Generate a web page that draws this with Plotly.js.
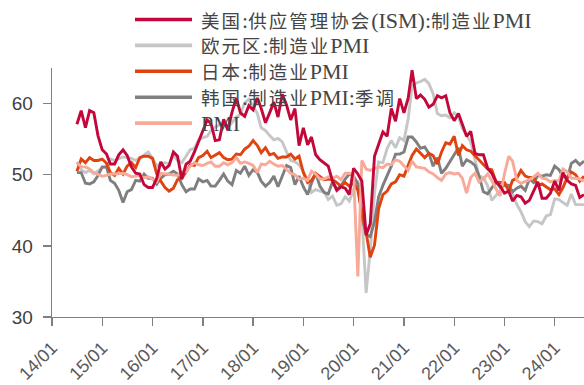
<!DOCTYPE html>
<html>
<head>
<meta charset="utf-8">
<script src="https://cdn.plot.ly/plotly-3.0.1.min.js"></script>
<style>
  html, body { margin: 0; padding: 0; background: #fff; }
  #chart { width: 584px; height: 385px; }
</style>
</head>
<body>
<div id="chart"></div>
<script>
// Monthly manufacturing PMI readings, 2014-07 through 2024-08
const startMonth = '2014-07';
const seriesNames = [
  '美国:供应管理协会(ISM):制造业PMI',
  '欧元区:制造业PMI',
  '日本:制造业PMI',
  '韩国:制造业PMI:季调',
  'PMI'
];

const usIsm = [
  57.1, 59.0, 56.6, 59.0, 58.7, 55.5,
  53.5, 52.9, 51.5, 51.5, 52.8, 53.5, 52.7, 51.1, 50.2, 50.1, 48.6, 48.2,
  48.2, 49.5, 51.8, 50.8, 51.3, 53.2, 52.6, 49.4, 51.5, 51.9, 53.2, 54.7,
  56.0, 57.7, 57.2, 54.8, 54.9, 57.8, 56.3, 58.8, 60.8, 58.7, 58.2, 59.7,
  59.1, 60.8, 59.3, 57.3, 58.7, 60.2, 58.1, 61.3, 59.8, 57.7, 59.3, 54.1,
  56.6, 54.2, 55.3, 52.8, 52.1, 51.7, 51.2, 49.1, 47.8, 48.3, 48.1, 47.2,
  50.9, 50.1, 49.1, 41.5, 43.1, 52.6, 54.2, 56.0, 55.4, 59.3, 57.5, 60.7,
  58.7, 60.8, 64.7, 60.7, 61.2, 60.6, 59.5, 59.9, 61.1, 60.8, 61.1, 58.7,
  57.6, 58.6, 57.1, 55.4, 56.1, 53.0, 52.8, 52.8, 50.9, 50.2, 49.0, 48.4,
  47.4, 47.7, 46.3, 47.1, 46.9, 46.0, 46.4, 47.6, 49.0, 46.7, 46.7, 47.4,
  49.1, 47.8, 50.3, 49.2, 48.7, 48.5, 46.8, 47.2
];

const euroArea = [
  51.8, 50.7, 50.3, 50.6, 50.1, 50.6,
  51.0, 51.0, 52.2, 52.0, 52.2, 52.5, 52.4, 52.3, 52.0, 52.3, 52.8, 53.2,
  52.3, 51.2, 51.6, 51.7, 51.5, 52.8, 52.0, 51.7, 52.6, 53.5, 53.7, 54.9,
  55.2, 55.4, 56.2, 56.7, 57.0, 57.4, 56.6, 57.4, 58.1, 58.5, 60.1, 60.6,
  59.6, 58.6, 56.6, 56.2, 55.5, 54.9, 55.1, 54.6, 53.2, 52.0, 51.8, 51.4,
  50.5, 49.3, 47.5, 47.9, 47.7, 47.6, 46.5, 47.0, 45.7, 45.9, 46.9, 46.3,
  47.9, 49.2, 44.5, 33.4, 39.4, 47.4, 51.8, 51.7, 53.7, 54.8, 53.8, 55.2,
  54.8, 57.9, 62.5, 62.9, 63.1, 63.4, 62.8, 61.4, 58.6, 58.3, 58.4, 58.0,
  58.7, 58.2, 56.5, 55.5, 54.6, 52.1, 49.8, 49.6, 48.4, 46.4, 47.1, 47.8,
  48.8, 48.5, 47.3, 45.8, 44.8, 43.4, 42.7, 43.5, 43.4, 43.1, 44.2, 44.4,
  46.6, 46.5, 46.1, 45.7, 47.3, 45.8, 45.8, 45.8
];

const japan = [
  50.5, 52.2, 51.7, 52.4, 52.0, 52.0,
  52.2, 51.6, 50.3, 49.9, 50.9, 50.1, 51.2, 51.7, 51.0, 52.4, 52.6, 52.6,
  52.3, 50.1, 49.1, 48.2, 47.7, 48.1, 49.3, 49.5, 50.4, 51.4, 51.3, 52.4,
  52.7, 53.3, 52.4, 52.7, 53.1, 52.4, 52.1, 52.2, 52.9, 52.8, 53.6, 54.0,
  54.8, 54.1, 53.1, 53.8, 52.8, 53.0, 52.3, 52.5, 52.5, 52.9, 52.2, 52.6,
  50.3, 48.9, 49.2, 50.2, 49.8, 49.3, 49.4, 49.3, 48.9, 48.4, 48.9, 48.4,
  48.8, 47.8, 44.8, 41.9, 38.4, 40.1, 45.2, 47.2, 47.7, 48.7, 49.0, 50.0,
  49.8, 51.4, 52.7, 53.6, 53.0, 52.4, 53.0, 52.7, 51.5, 53.2, 54.5, 54.3,
  55.4, 52.7, 54.1, 53.5, 53.3, 52.7, 52.1, 51.5, 50.8, 50.7, 49.0, 48.9,
  48.9, 47.7, 49.2, 49.5, 50.6, 49.8, 49.6, 49.6, 48.5, 48.7, 48.3, 47.9,
  48.0, 47.2, 48.2, 49.6, 50.4, 50.0, 49.1, 49.8
];

const korea = [
  50.3, 50.3, 48.8, 48.7, 49.0, 49.9,
  51.1, 51.1, 49.2, 48.8, 47.8, 46.1, 47.6, 47.9, 49.2, 49.1, 50.1, 49.5,
  49.5, 48.7, 49.5, 50.0, 50.1, 50.5, 50.1, 48.6, 47.6, 48.0, 48.0, 49.4,
  49.0, 49.2, 48.4, 48.4, 49.2, 50.1, 49.1, 48.6, 50.6, 50.2, 51.2, 49.9,
  50.7, 50.3, 49.1, 48.4, 48.9, 49.8, 48.3, 49.9, 51.3, 51.0, 48.6, 49.8,
  48.3, 47.2, 48.8, 50.2, 48.4, 47.5, 47.3, 49.0, 48.0, 48.4, 49.4, 50.1,
  49.8, 48.7, 44.2, 41.6, 41.3, 43.4, 46.9, 48.5, 49.8, 51.2, 52.9, 52.9,
  53.2, 55.3, 55.3, 54.6, 53.7, 53.9, 53.0, 51.2, 52.4, 50.2, 50.9, 51.9,
  52.8, 53.8, 51.2, 52.1, 51.8, 51.3, 49.8, 47.6, 47.3, 48.2, 49.0, 48.2,
  48.5, 48.5, 47.6, 48.1, 48.4, 47.8, 49.4, 48.9, 49.9, 49.8, 50.0, 49.9,
  51.2, 50.7, 49.8, 49.4, 51.6, 52.0, 51.4, 51.9
];

const chinaPmi = [
  51.7, 51.1, 51.1, 50.8, 50.3, 50.1,
  49.8, 49.9, 50.1, 50.1, 50.2, 50.2, 50.0, 49.7, 49.8, 49.8, 49.6, 49.7,
  49.4, 49.0, 50.2, 50.1, 50.1, 50.0, 49.9, 50.4, 50.4, 51.2, 51.7, 51.4,
  51.3, 51.6, 51.8, 51.2, 51.2, 51.7, 51.4, 51.7, 52.4, 51.6, 51.8, 51.6,
  51.3, 50.3, 51.5, 51.4, 51.9, 51.5, 51.2, 51.3, 50.8, 50.2, 50.0, 49.4,
  49.5, 49.2, 50.5, 50.1, 49.4, 49.4, 49.7, 49.5, 49.8, 49.3, 50.2, 50.2,
  50.0, 35.7, 52.0, 50.8, 50.6, 50.9, 51.1, 51.0, 51.5, 51.4, 52.1, 51.9,
  51.3, 50.6, 51.9, 51.1, 51.0, 50.9, 50.4, 50.1, 49.6, 49.2, 50.1, 50.3,
  50.1, 50.2, 49.5, 47.4, 49.6, 50.2, 49.0, 49.4, 50.1, 49.2, 48.0, 47.0,
  50.1, 52.6, 51.9, 49.2, 48.8, 49.0, 49.3, 49.7, 50.2, 49.5, 49.4, 49.0,
  49.2, 49.1, 50.8, 50.4, 49.5, 49.5, 49.4, 49.1
];

// Month stamps for the series, one per value
function monthStamps(start, count) {
  const [y0, m0] = start.split('-').map(Number);
  const out = [];
  for (let i = 0; i < count; i++) {
    const t = (m0 - 1) + i;
    const y = y0 + Math.floor(t / 12);
    const m = (t % 12) + 1;
    out.push(y + '-' + String(m).padStart(2, '0') + '-01');
  }
  return out;
}
const months = monthStamps(startMonth, usIsm.length);

const seriesValues = [usIsm, euroArea, japan, korea, chinaPmi];
const seriesColors = ['#C4073A', '#C6C6C6', '#E0430F', '#7F7F7F', '#F9A998'];

// Draw order: light lines at the back, the US line on top
const drawOrder = [1, 3, 2, 4, 0];
const traces = drawOrder.map(i => ({
  type: 'scatter',
  mode: 'lines',
  name: seriesNames[i],
  x: months,
  y: seriesValues[i],
  line: { color: seriesColors[i], width: 2.9 },
  hoverinfo: 'x+y+name',
  showlegend: false
}));

// Plot box in pixels, used to place the hand-drawn legend
const box = { left: 52, right: 584, top: 68, bottom: 317 };
const px = x => (x - box.left) / (box.right - box.left);
const py = y => (box.bottom - y) / (box.bottom - box.top);

// CJK runs are set a little smaller and spaced out, like a Song face
function legendLabel(s) {
  return s.replace(/([\u3400-\u9fff]+)/g,
    '<span style="font-family:Noto Sans CJK SC;font-size:18.5px;letter-spacing:2px">$1</span>');
}

const shapes = [];
const annotations = [];
seriesNames.forEach((name, i) => {
  const rowY = 19.5 + 25.9 * i;
  shapes.push({
    type: 'line', xref: 'paper', yref: 'paper',
    x0: px(135), x1: px(192), y0: py(rowY), y1: py(rowY),
    line: { color: seriesColors[i], width: 3.6 }
  });
  annotations.push({
    xref: 'paper', yref: 'paper',
    x: px(199), y: py(rowY),
    xanchor: 'left', yanchor: 'middle',
    align: 'left',
    showarrow: false,
    text: legendLabel(name),
    font: { family: 'Liberation Serif, Noto Sans CJK SC, serif', size: 22, color: '#454545' }
  });
});

const layout = {
  width: 584,
  height: 385,
  margin: { l: box.left, r: 584 - box.right, t: box.top, b: 385 - box.bottom, pad: 0 },
  paper_bgcolor: '#ffffff',
  plot_bgcolor: '#ffffff',
  showlegend: false,
  xaxis: {
    type: 'date',
    range: ['2014-01-01', '2024-08-01'],
    tick0: '2014-01-01',
    dtick: 'M12',
    tickformat: '%y/%m',
    tickangle: -45,
    ticks: 'outside',
    ticklen: 8,
    tickwidth: 1.3,
    tickcolor: '#808080',
    showline: true,
    linecolor: '#808080',
    linewidth: 1.3,
    showgrid: false,
    zeroline: false,
    ticklabelstandoff: 4,
    tickfont: { family: 'Liberation Sans, Arial, sans-serif', size: 18, color: '#595959' }
  },
  yaxis: {
    range: [30, 65],
    tickvals: [30, 40, 50, 60],
    ticks: 'outside',
    ticklen: 8,
    tickwidth: 1.3,
    tickcolor: '#808080',
    showline: true,
    linecolor: '#808080',
    linewidth: 1.3,
    showgrid: false,
    zeroline: false,
    ticklabelstandoff: 6,
    tickfont: { family: 'Liberation Sans, Arial, sans-serif', size: 19, color: '#404040' }
  },
  shapes: shapes,
  annotations: annotations
};

Plotly.newPlot('chart', traces, layout, { displayModeBar: false, staticPlot: true });
</script>
</body>
</html>
